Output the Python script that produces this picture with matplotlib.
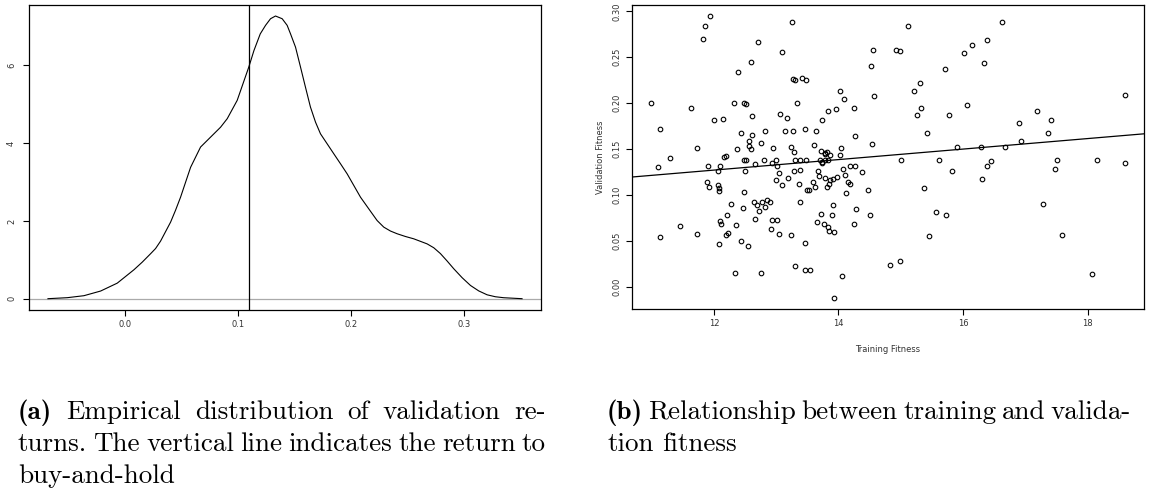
import numpy as np
import matplotlib
matplotlib.use("Agg")
import matplotlib.pyplot as plt

# density of validation returns
dens_x = [-0.0678, -0.0507, -0.036, -0.0212, -0.0065, 0.0083, 0.0156, 0.023, 0.0274,
          0.0318, 0.0407, 0.045, 0.0495, 0.054, 0.0584, 0.0628, 0.0672, 0.0731,
          0.079, 0.0849, 0.0908, 0.0996, 0.1099, 0.1144, 0.120, 0.1247, 0.1291,
          0.1335, 0.1394, 0.1438, 0.1468, 0.1512, 0.1556, 0.160, 0.1644, 0.1689,
          0.1733, 0.185, 0.191, 0.1969, 0.2028, 0.2087, 0.2175, 0.2234, 0.2293,
          0.2352, 0.2411, 0.2484, 0.2558, 0.2676, 0.2735, 0.2794, 0.2853, 0.2912,
          0.2986, 0.306, 0.3133, 0.3207, 0.328, 0.3354, 0.3516]
dens_y = [0.0, 0.026, 0.077, 0.197, 0.40, 0.745, 0.94, 1.157, 1.29,
          1.48, 1.97, 2.27, 2.61, 3.00, 3.38, 3.64, 3.90, 4.07,
          4.24, 4.41, 4.63, 5.10, 5.96, 6.38, 6.81, 7.03, 7.20,
          7.27, 7.20, 7.03, 6.81, 6.47, 5.96, 5.44, 4.93, 4.54,
          4.24, 3.73, 3.47, 3.21, 2.91, 2.61, 2.25, 2.01, 1.84,
          1.74, 1.67, 1.60, 1.54, 1.41, 1.31, 1.16, 0.97, 0.77,
          0.54, 0.34, 0.20, 0.10, 0.05, 0.025, 0.0]
buy_and_hold = 0.11

# training vs validation fitness
train = [10.99, 11.13, 11.29, 11.64, 11.73, 11.83, 11.86, 11.93, 12.00, 12.14,
         12.16, 12.20, 12.32, 12.37, 12.39, 12.43, 12.48, 12.52, 12.57, 12.57,
         12.59, 12.60, 12.61, 12.61, 12.71, 12.76, 12.82, 12.95, 13.06, 13.10,
         13.14, 13.18, 13.24, 13.26, 13.27, 13.27, 13.29, 13.30, 13.33, 13.42,
         13.46, 13.48, 13.61, 13.64, 13.72, 13.73, 13.79, 13.81, 13.83, 13.87,
         13.96, 14.02, 14.04, 14.02, 14.09, 14.25, 14.27,
         14.52, 14.55, 14.57, 14.54, 14.93, 14.98, 15.11, 15.21, 15.31, 15.32,
         15.26, 15.42, 15.71, 15.78, 15.91, 16.01, 16.06, 16.15, 16.29, 16.33,
         16.39, 16.63, 16.68, 16.89, 16.93, 17.18, 17.36, 17.41, 18.60,
         14.07, 14.19, 14.26, 14.11, 14.15, 14.18, 14.37, 14.12, 14.47, 14.28,
         14.50, 14.25, 14.06, 15.01, 15.62, 15.83, 15.38, 15.57, 15.73, 15.45,
         14.82, 14.99, 16.45, 16.39, 16.30, 17.51, 17.48, 18.15, 18.60, 17.29,
         17.59, 18.07,
         11.10, 12.48, 12.52, 12.81, 12.94, 13.00, 13.01, 13.31, 13.38, 13.48,
         13.70, 12.66, 11.90, 12.10, 12.07, 12.50, 13.05, 13.29, 13.39, 13.67,
         13.19, 13.00, 13.10, 13.36, 13.59, 11.89, 11.92, 12.06, 12.09, 12.09,
         12.28, 12.21, 12.10, 12.11, 12.19, 12.22, 12.09, 12.36, 12.46, 12.48,
         12.44, 12.54, 12.34, 12.64, 12.69, 12.77, 12.72, 12.82, 12.85, 12.90,
         12.66, 12.94, 13.02, 12.91, 13.04, 12.75, 13.23, 13.30, 13.39, 13.47,
         13.47, 13.55, 13.50, 13.52, 13.62, 13.66, 13.68, 13.72, 13.73, 13.74,
         13.77, 13.79, 13.83, 13.84, 13.81, 13.85, 13.86, 13.91, 13.89, 13.92,
         13.93, 13.93, 13.98, 11.13, 11.46, 11.73, 13.78, 13.79, 13.83]
valid = [0.200, 0.172, 0.140, 0.195, 0.151, 0.270, 0.284, 0.295, 0.1815, 0.183,
         0.1416, 0.142, 0.200, 0.150, 0.234, 0.168, 0.200, 0.199, 0.159, 0.153,
         0.150, 0.245, 0.186, 0.165, 0.267, 0.1565, 0.170, 0.151, 0.188, 0.256,
         0.170, 0.184, 0.152, 0.288, 0.226, 0.170, 0.147, 0.225, 0.200, 0.227,
         0.172, 0.225, 0.154, 0.170, 0.148, 0.182, 0.146, 0.147, 0.192, 0.1435,
         0.194, 0.213, 0.151, 0.1435, 0.205, 0.195, 0.1645,
         0.2405, 0.258, 0.2076, 0.1554, 0.258, 0.257, 0.284, 0.213, 0.2224, 0.195,
         0.1876, 0.1674, 0.237, 0.187, 0.1525, 0.2543, 0.198, 0.263, 0.1518, 0.2435,
         0.2685, 0.288, 0.1525, 0.178, 0.159, 0.192, 0.168, 0.182, 0.2087,
         0.1286, 0.1315, 0.1315, 0.1213, 0.1141, 0.112, 0.1246, 0.1017, 0.105, 0.0848,
         0.0786, 0.0685, 0.012, 0.138, 0.138, 0.126, 0.108, 0.0815, 0.0786, 0.055,
         0.0235, 0.0283, 0.137, 0.132, 0.117, 0.138, 0.1286, 0.138, 0.1348, 0.0898,
         0.0565, 0.0141,
         0.1304, 0.138, 0.138, 0.138, 0.1344, 0.138, 0.1315, 0.138, 0.138, 0.138,
         0.1376, 0.1337, 0.1315, 0.1315, 0.1264, 0.1257, 0.1235, 0.1264, 0.127, 0.1264,
         0.1185, 0.1159, 0.1112, 0.112, 0.1137, 0.1145, 0.1083, 0.111, 0.108, 0.104,
         0.0902, 0.0786, 0.0713, 0.0688, 0.0561, 0.0583, 0.0467, 0.067, 0.0859, 0.1028,
         0.050, 0.0449, 0.0152, 0.0924, 0.0895, 0.092, 0.0826, 0.087, 0.0941, 0.0927,
         0.0739, 0.0728, 0.0728, 0.0634, 0.0576, 0.0148, 0.0565, 0.0228, 0.0924, 0.0478,
         0.0185, 0.0185, 0.1054, 0.1054, 0.1087, 0.070, 0.1207, 0.0793, 0.1359, 0.1348,
         0.0688, 0.118, 0.0652, 0.0604, 0.109, 0.112, 0.1166, 0.117, 0.0786, 0.0887,
         0.0601, -0.012, 0.1196, 0.0543, 0.0663, 0.0572, 0.1445, 0.138, 0.138]

caption_a = ["(a) Empirical distribution of validation re-",
             "turns. The vertical line indicates the return to",
             "buy-and-hold"]
caption_b = ["(b) Relationship between training and valida-",
             "tion fitness"]

W, H = 1149, 493
fig = plt.figure(figsize=(W / 100, H / 100), dpi=100)


def r_range(v):
    lo, hi = min(v), max(v)
    d = (hi - lo) * 0.04
    return lo - d, hi + d


def r_style(ax):
    for s in ax.spines.values():
        s.set_linewidth(0.9)
    ax.tick_params(length=4.3, width=0.8, labelsize=6, pad=3, colors="black",
                   labelcolor="#333333")
    for lab in ax.get_yticklabels():
        lab.set_rotation(90)
        lab.set_va("center")


# left: density
ax1 = fig.add_axes([29 / W, 1 - 310 / H, 512 / W, 305.3 / H])
ax1.axhline(0, color="#aaaaaa", lw=0.9)
ax1.plot(dens_x, dens_y, color="black", lw=0.8)
ax1.axvline(buy_and_hold, color="black", lw=0.9)
ax1.set_xlim(r_range(dens_x))
ax1.set_ylim(r_range(dens_y))
ax1.set_xticks([0.0, 0.1, 0.2, 0.3])
ax1.set_xticklabels(["0.0", "0.1", "0.2", "0.3"])
ax1.set_yticks([0, 2, 4, 6])
r_style(ax1)
ax1.tick_params(axis="y", pad=5)

# right: scatter with fitted line
ax2 = fig.add_axes([632 / W, 1 - 309 / H, 512 / W, 304.3 / H])
ax2.plot(train, valid, "o", mfc="none", mec="black", ms=3.3, mew=0.8)
m, b = np.polyfit(train, valid, 1)
ax2.axline((0, b), slope=m, color="black", lw=0.9)
ax2.set_xlim(r_range(train))
ax2.set_ylim(r_range(valid))
ax2.set_xticks([12, 14, 16, 18])
ax2.set_yticks([0.0, 0.05, 0.10, 0.15, 0.20, 0.25, 0.30])
ax2.set_yticklabels(["0.00", "0.05", "0.10", "0.15", "0.20", "0.25", "0.30"])
r_style(ax2)
ax2.set_xlabel("Training Fitness", fontsize=6, color="#333333", labelpad=12)
ax2.set_ylabel("Validation Fitness", fontsize=6, color="#333333", labelpad=6)

# captions
fs = 19.5
rend = fig.canvas.get_renderer()


def put_line(text, x0, x1, ybase, justify):
    words = text.split(" ")
    items = []
    for w in words:
        fam = "cmb10" if w in ("(a)", "(b)") else "cmr10"
        t = fig.text(0, 1 - ybase / H, w, family=fam, fontsize=fs, va="baseline")
        items.append(t)
    widths = [t.get_window_extent(rend).width for t in items]
    if justify and len(items) > 1:
        gap = (x1 - x0 - sum(widths)) / (len(items) - 1)
    else:
        gap = fs * 100 / 72 * 0.333
    x = x0
    for t, w in zip(items, widths):
        t.set_x(x / W)
        x += w + gap


ys = [419, 451, 483]
for i, line in enumerate(caption_a):
    put_line(line, 18, 546, ys[i], i < len(caption_a) - 1)
for i, line in enumerate(caption_b):
    put_line(line, 607, 1131, ys[i], i < len(caption_b) - 1)

fig.savefig("out.png", dpi=100)
